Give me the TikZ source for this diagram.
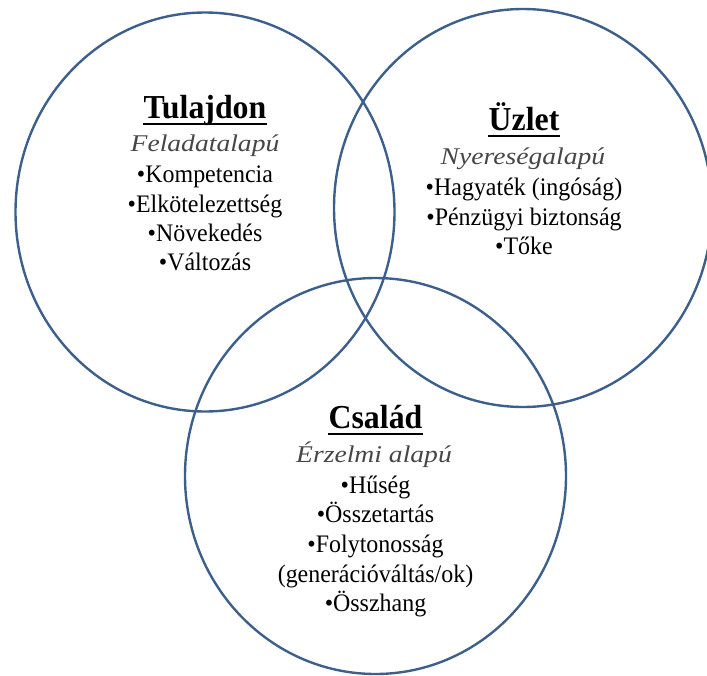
\documentclass[tikz,border=0pt]{standalone}
\usepackage{fontspec}
\setmainfont{Liberation Serif}[FakeStretch=0.95]
\newfontfamily\wideit{Liberation Serif}[FakeStretch=1.15]
\definecolor{ringblue}{RGB}{61,95,140}
\definecolor{subgray}{RGB}{70,70,70}
\begin{document}
\begin{tikzpicture}[x=1pt,y=-1pt,
  ring/.style={draw=ringblue,line width=2.4pt},
  ttl/.style={anchor=base,inner sep=0pt,font=\fontsize{33.5}{36}\selectfont\bfseries},
  sub/.style={anchor=base,inner sep=0pt,text=subgray,font=\fontsize{24}{28}\selectfont\wideit\itshape},
  item/.style={anchor=base,inner sep=0pt,font=\fontsize{25.2}{28}\selectfont},
  ul/.style={line width=2pt}]
\useasboundingbox (0,0) rectangle (707,675);
\clip (0,0) rectangle (707,675);

% the three overlapping rings
\draw[ring] (205,212) ellipse [x radius=189.5pt, y radius=199.5pt];
\draw[ring] (523,208) ellipse [x radius=189pt, y radius=199pt];
\draw[ring] (375.5,476) ellipse [x radius=190.5pt, y radius=198pt];

% Tulajdon
\node[ttl] (t0) at (205,118) {Tulajdon};
\draw[ul] ([yshift=-5.5pt]t0.base west) -- ([yshift=-5.5pt]t0.base east);
\node[sub] (t1) at (205,151.5) {Feladatalapú};
\node[item] (t2) at (205,182) {•Kompetencia};
\node[item] (t3) at (205,212) {•Elkötelezettség};
\node[item] (t4) at (205,241.5) {•Növekedés};
\node[item] (t5) at (205,270.5) {•Változás};

% Üzlet
\node[ttl] (u0) at (524,130) {Üzlet};
\draw[ul] ([yshift=-5.5pt]u0.base west) -- ([yshift=-5.5pt]u0.base east);
\node[sub] (u1) at (523,164) {Nyereségalapú};
\node[item] (u2) at (524,195) {•Hagyaték (ingóság)};
\node[item] (u3) at (524,225) {•Pénzügyi biztonság};
\node[item] (u4) at (524,254) {•Tőke};

% Család
\node[ttl] (c0) at (375.5,428) {Család};
\draw[ul] ([yshift=-5.5pt]c0.base west) -- ([yshift=-5.5pt]c0.base east);
\node[sub] (c1) at (374,462) {Érzelmi alapú};
\node[item] (c2) at (375.5,493) {•Hűség};
\node[item] (c3) at (375.5,522.5) {•Összetartás};
\node[item] (c4) at (375.5,552) {•Folytonosság};
\node[item] (c5) at (375.5,582) {(generációváltás/ok)};
\node[item] (c6) at (375.5,611) {•Összhang};
\end{tikzpicture}
\end{document}
